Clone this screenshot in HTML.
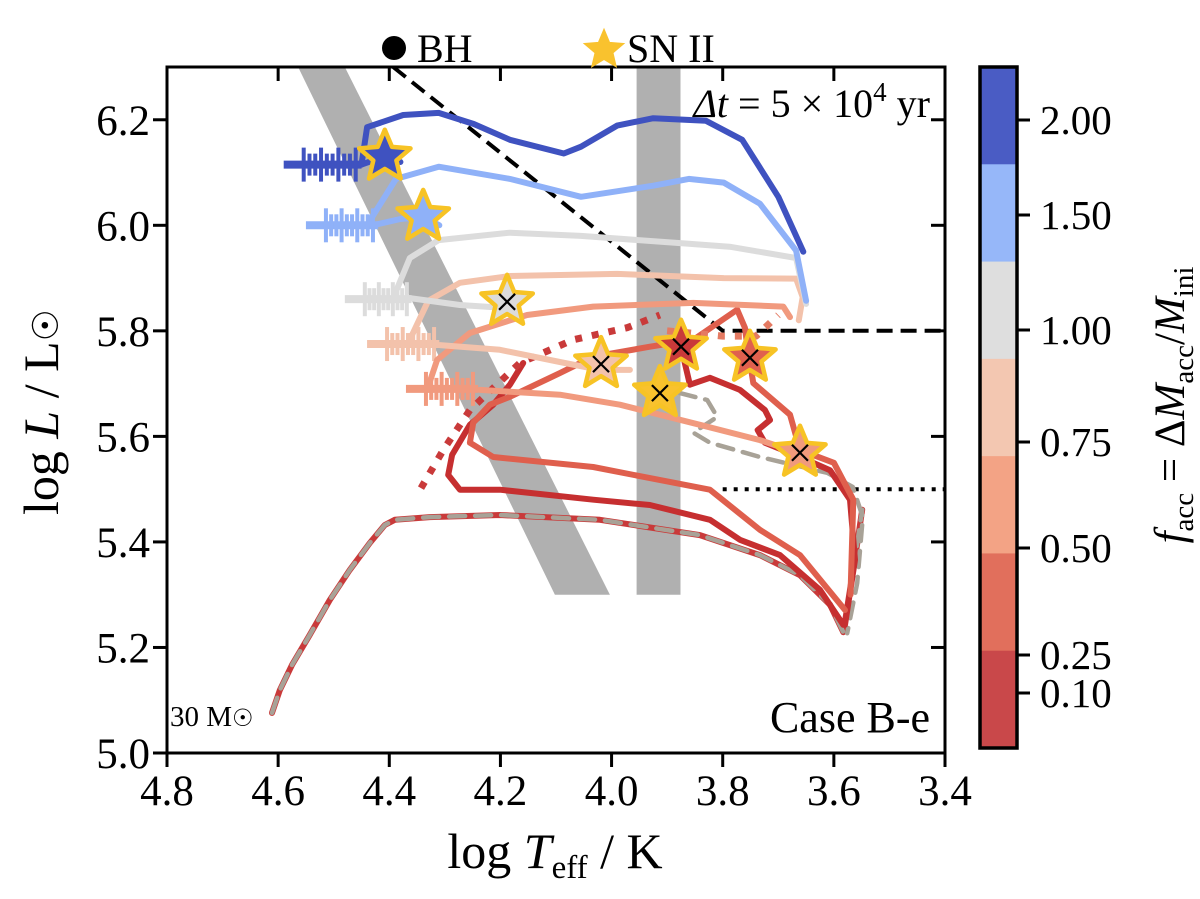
<!DOCTYPE html>
<html><head><meta charset="utf-8"><style>
html,body{margin:0;padding:0;background:#fff;}
svg{display:block;font-family:"Liberation Serif",serif;}
</style></head><body>
<svg id="chart" width="1200" height="899" viewBox="0 0 1200 899" xmlns="http://www.w3.org/2000/svg">
<g id="bands"></g>
<g id="refs"></g>
<g id="tracks"></g>
<g id="marks"></g>
<g id="axes"></g>
<g id="cbar"></g>
<g>
 <circle cx="394" cy="48" r="12" fill="#000"/>
 <text x="417" y="62" font-size="40">BH</text>
 <polygon id="legstar" fill="#f9c22e" stroke="#f9c22e"/>
 <text x="627" y="62" font-size="40">SN II</text>
</g>
<text x="930" y="117" font-size="40" text-anchor="end"><tspan font-style="italic">Δt</tspan> = 5 × 10<tspan font-size="27" dy="-16">4</tspan><tspan dy="16"> yr</tspan></text>
<text x="930" y="732" font-size="44" text-anchor="end">Case B-e</text>
<text x="170" y="726" font-size="29">30 M<tspan font-size="24">☉</tspan></text>
<text x="555" y="868" font-size="50" text-anchor="middle">log <tspan font-style="italic">T</tspan><tspan font-size="33" dy="10">eff</tspan><tspan dy="-10"> / K</tspan></text>
<text transform="translate(58,412) rotate(-90)" font-size="50" text-anchor="middle">log <tspan font-style="italic">L</tspan> / L<tspan font-size="36">☉</tspan></text>
<text transform="translate(1184,405) rotate(-90)" font-size="43" text-anchor="middle"><tspan font-style="italic">f</tspan><tspan font-size="29" dy="9">acc</tspan><tspan dy="-9"> = Δ</tspan><tspan font-style="italic">M</tspan><tspan font-size="29" dy="9">acc</tspan><tspan dy="-9">/</tspan><tspan font-style="italic">M</tspan><tspan font-size="29" dy="9">ini</tspan></text>
</svg>
<script>
const xTicks=[4.8,4.6,4.4,4.2,4.0,3.8,3.6,3.4];
const yTicks=[5.0,5.2,5.4,5.6,5.8,6.0,6.2];
const cbarLabels=["2.00","1.50","1.00","0.75","0.50","0.25","0.10"];
const cbarColors=["#4a5cc4","#96b7f9","#dedede","#f3c7b1","#f3a385","#e16f5c","#c9484a"];
const preMS=[[4.611,5.076],[4.597,5.119],[4.575,5.167],[4.543,5.224],[4.507,5.29],[4.471,5.347],[4.435,5.398],[4.408,5.432],[4.39,5.442],[4.327,5.447],[4.201,5.451],[4.021,5.442],[3.841,5.413],[3.733,5.375],[3.661,5.337],[3.607,5.281],[3.583,5.229],[3.571,5.309],[3.557,5.404],[3.549,5.461]];
const blueMain=[[4.45,6.115],[4.44,6.186],[4.375,6.209],[4.311,6.213],[4.248,6.192],[4.183,6.162],[4.086,6.136],[4.055,6.149],[3.99,6.189],[3.925,6.203],[3.83,6.198],[3.765,6.162],[3.70,6.054],[3.655,5.95]];
const blueTail=[[4.45,6.115],[4.41,6.13],[4.38,6.12]];
const lblueMain=[[4.43,6.0],[4.433,6.012],[4.388,6.088],[4.311,6.111],[4.183,6.088],[4.055,6.054],[3.925,6.075],[3.861,6.088],[3.798,6.081],[3.733,6.041],[3.668,5.952],[3.65,5.857]];
const lblueTail=[[4.43,6.0],[4.38,6.012],[4.339,6.016],[4.31,6.0]];
const grayMain=[[4.395,5.857],[4.363,5.938],[4.311,5.972],[4.183,5.986],[4.055,5.98],[3.861,5.965],[3.785,5.959],[3.668,5.938],[3.65,5.851]];
const grayTail=[[4.363,5.862],[4.273,5.849],[4.201,5.844],[4.174,5.836]];
const peachMain=[[4.363,5.783],[4.33,5.857],[4.273,5.891],[4.183,5.904],[3.99,5.908],[3.798,5.9],[3.668,5.899],[3.656,5.864],[3.663,5.82]];
const peachTail=[[4.309,5.773],[4.201,5.764],[4.093,5.741],[4.021,5.726],[3.967,5.726]];
const salmonMain=[[4.332,5.688],[4.314,5.745],[4.255,5.796],[4.152,5.83],[4.033,5.846],[3.853,5.853],[3.691,5.846],[3.679,5.826]];
const salmonTail=[[4.237,5.688],[4.093,5.679],[3.985,5.66],[3.841,5.622],[3.733,5.593],[3.679,5.574]];
const red25=[[3.58,5.271],[3.661,5.375],[3.733,5.423],[3.823,5.499],[3.931,5.521],[4.033,5.542],[4.213,5.561],[4.255,5.588],[4.249,5.626],[4.219,5.66],[4.183,5.675],[4.093,5.72],[4.033,5.751],[3.931,5.77],[3.853,5.783],[3.774,5.84],[3.76,5.806],[3.756,5.773],[3.745,5.701],[3.679,5.641],[3.661,5.574],[3.6,5.55],[3.565,5.48],[3.57,5.3]];
const red10a=[[3.583,5.243],[3.625,5.309],[3.697,5.375],[3.769,5.404],[3.823,5.442],[3.931,5.47],[4.033,5.48],[4.201,5.499],[4.273,5.499],[4.294,5.527],[4.287,5.565],[4.255,5.622],[4.213,5.66],[4.183,5.698],[4.159,5.739]];
const red10b=[[3.875,5.77],[3.859,5.698],[3.823,5.711],[3.769,5.688],[3.724,5.65],[3.715,5.631],[3.737,5.612],[3.724,5.588],[3.661,5.561],[3.607,5.536],[3.571,5.48],[3.562,5.366],[3.58,5.243]];
const red10dot=[[4.343,5.502],[4.303,5.574],[4.255,5.65],[4.165,5.739],[4.069,5.783],[3.972,5.806],[3.913,5.83]];
const salmonDot=[[3.90,5.80],[3.80,5.79],[3.74,5.79],[3.70,5.83]];
const grayDash=[[3.877,5.682],[3.828,5.669],[3.81,5.637],[3.853,5.607],[3.823,5.588],[3.733,5.561],[3.612,5.531],[3.566,5.504],[3.548,5.447],[3.558,5.322],[3.576,5.227]];
const hooks=[[4.59,4.45,6.115,"#3f52c0"],[4.55,4.42,6.0,"#8fb1f8"],[4.48,4.36,5.86,"#dcdcdc"],[4.44,4.31,5.775,"#f3c2ab"],[4.37,4.24,5.69,"#f19a7e"]];
const starsT=[4.408,4.339,4.188,4.019,3.875,3.751,3.913,3.661];
const starsL=[6.13,6.016,5.855,5.737,5.77,5.749,5.682,5.569];
const starsFill=["#3f52c0","#8fb1f8","#dcdcdc","#f3c2ab","#c93a3a","#e0604e","#f9c22e","#f09a7c"];
const starsCross=[0,0,1,1,1,1,1,1];
const bandSlant=[[4.564,6.3],[4.48,6.3],[4.003,5.3],[4.102,5.3]];
const bandVert=[[3.955,6.3],[3.876,6.3],[3.876,5.3],[3.955,5.3]];
const bhLine=[[4.393,6.3],[3.80,5.8],[3.4,5.8]];
const dotLine=[[3.80,5.5],[3.4,5.5]];

const X0=167,X1=945,Y0=753,Y1=67;
const sx=t=>X0+(4.8-t)/(1.4)*(X1-X0);
const sy=l=>Y0-(l-5.0)/1.3*(Y0-Y1);
const NS="http://www.w3.org/2000/svg";
function mk(tag,parent,attrs){const e=document.createElementNS(NS,tag);for(const k in attrs)e.setAttribute(k,attrs[k]);parent.appendChild(e);return e;}
const P=a=>a.map(p=>sx(p[0]).toFixed(1)+","+sy(p[1]).toFixed(1)).join(" ");

const bands=document.getElementById('bands');
[bandSlant,bandVert].forEach((b,i)=>{const e=mk('polygon',bands,{points:P(b),fill:"#b0b0b0"});

});
const refs=document.getElementById('refs');
let e=mk('polyline',refs,{points:P(bhLine),fill:"none",stroke:"#000","stroke-width":4,"stroke-dasharray":"16,8"});


e=mk('polyline',refs,{points:P(dotLine),fill:"none",stroke:"#000","stroke-width":4,"stroke-dasharray":"4,7"});



const tr=document.getElementById('tracks');
function line(arr,col,name,extra){const a={points:P(arr),fill:"none",stroke:col,"stroke-width":6,"stroke-linejoin":"round","stroke-linecap":"round"};Object.assign(a,extra||{});const l=mk('polyline',tr,a);

return l;}
line(preMS,"#c93a3a","pre-ms-track");
line(preMS,"#a8a297","pre-ms-track-gray",{"stroke-dasharray":"16,10","stroke-width":4.5});
hooks.forEach(h=>{
 const g=mk('g',tr,{});
 
 
 mk('line',g,{x1:sx(h[0]),x2:sx(h[1]),y1:sy(h[2]),y2:sy(h[2]),stroke:h[3],"stroke-width":8});
 for(let i=0;i<10;i++){const x=sx(h[0])+20+i*(sx(h[1])-sx(h[0])-20)/10;const hh=(i%3==0)?17:11;
  mk('line',g,{x1:x,x2:x,y1:sy(h[2])-hh,y2:sy(h[2])+hh,stroke:h[3],"stroke-width":4});}
});
line(grayDash,"#a8a297","gray-dashed-track",{"stroke-dasharray":"16,10","stroke-width":4.5});
line(red10a,"#c62f30","track-f010");
line(red10b,"#c62f30","track-f010-late");
line(red25,"#df5f4d","track-f025");
line(red10dot,"#c93a3a","track-f010-dotted",{"stroke-dasharray":"7,10","stroke-linecap":"butt","stroke-width":7});
line(salmonDot,"#e47a62","track-salmon-dotted",{"stroke-dasharray":"7,10","stroke-linecap":"butt","stroke-width":7});
line(salmonTail,"#f19a7e","track-f050-tail");
line(salmonMain,"#f19a7e","track-f050");
line(peachTail,"#f3c2ab","track-f075-tail");
line(peachMain,"#f3c2ab","track-f075");
line(grayTail,"#dcdcdc","track-f100-tail");
line(grayMain,"#dcdcdc","track-f100");
line(lblueTail,"#8fb1f8","track-f150-tail");
line(lblueMain,"#8fb1f8","track-f150");
line(blueTail,"#3f52c0","track-f200-tail");
line(blueMain,"#3f52c0","track-f200");

function starPts(cx,cy,R){const r=R*0.45;let s=[];for(let i=0;i<10;i++){const a=-Math.PI/2+i*Math.PI/5;const rr=i%2?r:R;s.push((cx+rr*Math.cos(a)).toFixed(1)+","+(cy+rr*Math.sin(a)).toFixed(1));}return s.join(" ");}
document.getElementById('legstar').setAttribute('points',starPts(604,50,21));
const mg=document.getElementById('marks');
starsT.forEach((t,i)=>{const cx=sx(t),cy=sy(starsL[i]);
 const s=mk('polygon',mg,{points:starPts(cx,cy,27),fill:starsFill[i],stroke:"#f7c325","stroke-width":4.5,"stroke-linejoin":"round"});
 
 
 if(starsCross[i]){mk('path',mg,{d:`M${cx-8},${cy-8}L${cx+8},${cy+8}M${cx-8},${cy+8}L${cx+8},${cy-8}`,stroke:"#000","stroke-width":2.2});}
});

const ax=document.getElementById('axes');
e=mk('rect',ax,{x:X0,y:Y1,width:X1-X0,height:Y0-Y1,fill:"none",stroke:"#000","stroke-width":3});


xTicks.forEach(t=>{const x=sx(t);
 mk('line',ax,{x1:x,x2:x,y1:Y0,y2:Y0+14,stroke:"#000","stroke-width":3});
 mk('line',ax,{x1:x,x2:x,y1:Y1,y2:Y1+14,stroke:"#000","stroke-width":3});
 const tx=mk('text',ax,{x:x,y:Y0+52,"font-size":43,"text-anchor":"middle"});tx.textContent=t.toFixed(1);
 
 });
yTicks.forEach(l=>{const y=sy(l);
 mk('line',ax,{x1:X0-14,x2:X0,y1:y,y2:y,stroke:"#000","stroke-width":3});
 mk('line',ax,{x1:X1-14,x2:X1,y1:y,y2:y,stroke:"#000","stroke-width":3});
 const tx=mk('text',ax,{x:X0-17,y:y+15,"font-size":43,"text-anchor":"end"});tx.textContent=l.toFixed(1);
 
 });

const cb=document.getElementById('cbar');
const CX=980,CW=37,CT=67,CB=748,seg=(CB-CT)/cbarColors.length;
const tickY=[120,215,330,442,548,655,693];
cbarColors.forEach((c,i)=>{const r=mk('rect',cb,{x:CX,y:CT+i*seg,width:CW,height:seg+0.5,fill:c});
 
 });
mk('rect',cb,{x:CX,y:CT,width:CW,height:CB-CT,fill:"none",stroke:"#000","stroke-width":3.5});
cbarLabels.forEach((lab,i)=>{const y=tickY[i];
 mk('line',cb,{x1:CX+CW,x2:CX+CW+13,y1:y,y2:y,stroke:"#000","stroke-width":3});
 const tx=mk('text',cb,{x:1040,y:y+14,"font-size":41});tx.textContent=lab;
 
 });
</script>
</body></html>
